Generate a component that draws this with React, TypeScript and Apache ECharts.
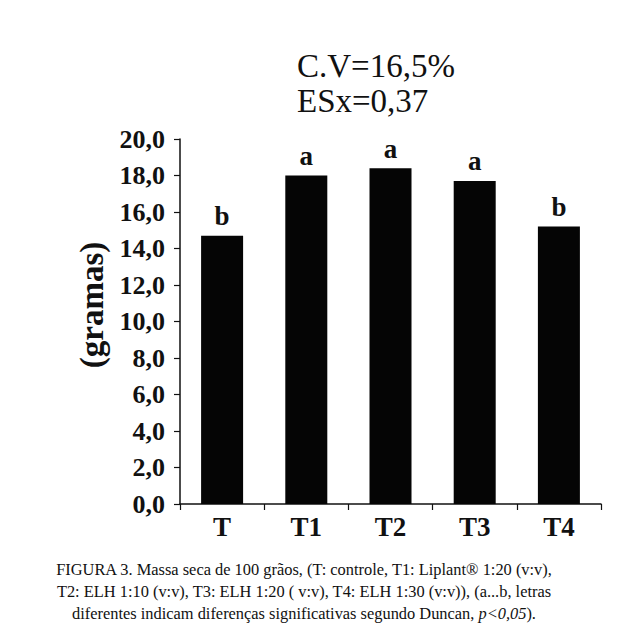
import React, { useEffect, useRef } from "react";
import * as echarts from "echarts";

const categories = ["T", "T1", "T2", "T3", "T4"];
const massValues = [14.7, 18.0, 18.4, 17.7, 15.2];
const sigLetters = ["b", "a", "a", "a", "b"];
const statLines = ["C.V=16,5%", "ESx=0,37"];
const captionLines = [
  "FIGURA 3. Massa seca de 100 grãos, (T: controle, T1: Liplant® 1:20 (v:v),",
  "T2: ELH 1:10 (v:v), T3: ELH 1:20 ( v:v), T4: ELH 1:30 (v:v)), (a...b, letras",
  "diferentes indicam diferenças significativas segundo Duncan, {i|p<0,05}).",
];
const yAxisTitle = "(gramas)";

const SERIF = '"Liberation Serif", "Times New Roman", serif';

export default function App() {
  const ref = useRef<HTMLDivElement>(null);
  useEffect(() => {
    if (!ref.current) return;
    const chart = echarts.init(ref.current, null, { renderer: "svg" });
    chart.setOption({
      animation: false,
      backgroundColor: "#ffffff",
      grid: { left: 180, top: 139, width: 421, height: 365, containLabel: false },
      xAxis: {
        type: "category",
        data: categories,
        axisLine: { lineStyle: { color: "#111", width: 1.5 } },
        axisTick: { show: true, length: 6, lineStyle: { color: "#111", width: 1.2 } },
        axisLabel: {
          margin: 9,
          color: "#111",
          fontFamily: SERIF,
          fontWeight: "bold",
          fontSize: 27,
        },
      },
      yAxis: {
        type: "value",
        min: 0,
        max: 20,
        interval: 2,
        axisLine: { show: true, lineStyle: { color: "#111", width: 1.5 } },
        axisTick: { show: true, length: 6, lineStyle: { color: "#111", width: 1.2 } },
        splitLine: { show: false },
        axisLabel: {
          margin: 15,
          color: "#111",
          fontFamily: SERIF,
          fontWeight: "bold",
          fontSize: 26,
          formatter: (v: number) => v.toFixed(1).replace(".", ","),
        },
      },
      series: [
        {
          type: "bar",
          data: massValues,
          barWidth: 42,
          itemStyle: { color: "#050505" },
          label: {
            show: true,
            position: "top",
            distance: 6,
            color: "#111",
            fontFamily: SERIF,
            fontWeight: "bold",
            fontSize: 27,
            formatter: (p: any) => sigLetters[p.dataIndex],
          },
        },
      ],
      graphic: [
        {
          type: "text",
          x: 92,
          y: 305,
          rotation: Math.PI / 2,
          style: {
            text: yAxisTitle,
            fontFamily: SERIF,
            fontWeight: "bold",
            fontSize: 33,
            fill: "#111",
            align: "center",
            verticalAlign: "middle",
          },
        },
        ...statLines.map((t, i) => ({
          type: "text",
          x: 297,
          y: 66 + i * 35,
          style: {
            text: t,
            fontFamily: SERIF,
            fontSize: 33,
            fill: "#111",
            align: "left",
            verticalAlign: "middle",
          },
        })),
        ...captionLines.map((t, i) => ({
          type: "text",
          x: 304,
          y: 569 + i * 22,
          style: {
            text: t,
            fontFamily: SERIF,
            fontSize: 16.4,
            fill: "#111",
            align: "center",
            verticalAlign: "middle",
            rich: {
              i: { fontFamily: SERIF, fontSize: 16.4, fontStyle: "italic", fill: "#111" },
            },
          },
        })),
      ],
    });
    return () => chart.dispose();
  }, []);
  return (
    <div
      ref={ref}
      style={{ position: "fixed", left: 0, top: 0, width: 629, height: 637 }}
    />
  );
}
